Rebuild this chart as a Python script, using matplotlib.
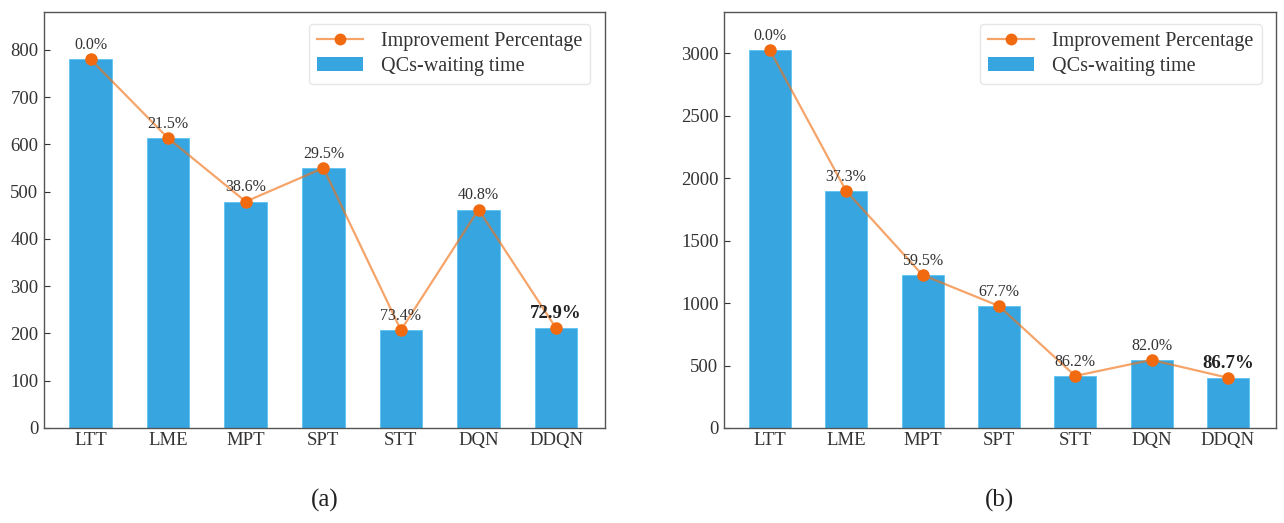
import matplotlib
matplotlib.use("Agg")
import matplotlib.pyplot as plt
from matplotlib.lines import Line2D
from matplotlib.patches import Patch

plt.rcParams["font.family"] = ["Liberation Serif", "DejaVu Serif"]

methods = ["LTT", "LME", "MPT", "SPT", "STT", "DQN", "DDQN"]

# (a) QCs-waiting time and improvement over LTT
wait_a = [780, 613, 479, 550, 207, 462, 211]
impr_a = [0.0, 21.5, 38.6, 29.5, 73.4, 40.8, 72.9]

# (b) QCs-waiting time and improvement over LTT
wait_b = [3026, 1897, 1225, 977, 417, 545, 402]
impr_b = [0.0, 37.3, 59.5, 67.7, 86.2, 82.0, 86.7]

yticks_a = [0, 100, 200, 300, 400, 500, 600, 700, 800]
yticks_b = [0, 500, 1000, 1500, 2000, 2500, 3000]

BAR_COLOR = "#37a5e0"
LINE_COLOR = (0.94, 0.45, 0.10, 0.65)
MARKER_COLOR = "#f26a10"
TEXT_COLOR = "#333333"
SPINE_COLOR = "#555555"

fig = plt.figure(figsize=(12.84, 5.23), dpi=100)
ax_a = fig.add_axes([44 / 1284, 1 - 428 / 523, (605 - 44) / 1284, 416 / 523])
ax_b = fig.add_axes([724 / 1284, 1 - 428 / 523, (1276 - 724) / 1284, 416 / 523])


def draw_panel(ax, waits, imprs, yticks, ylim, tag):
    x = list(range(len(methods)))
    ax.bar(x, waits, width=0.55, color=BAR_COLOR, edgecolor="#5cc3f2",
           linewidth=0.6, zorder=2)
    ax.plot(x, waits, color=LINE_COLOR, linewidth=1.6, marker="o",
            markersize=8, markerfacecolor=MARKER_COLOR,
            markeredgecolor=MARKER_COLOR, zorder=3)
    for i, (xi, yi, p) in enumerate(zip(x, waits, imprs)):
        last = i == len(methods) - 1
        ax.annotate(f"{p:.1f}%", (xi, yi), xytext=(0, 4.5),
                    textcoords="offset points", ha="center", va="bottom",
                    fontsize=13.5 if last else 11.5,
                    fontweight="bold" if last else "normal",
                    color="#222222" if last else TEXT_COLOR, zorder=4)
    ax.set_xticks(x)
    ax.set_xticklabels(methods)
    ax.set_yticks(yticks)
    ax.set_ylim(*ylim)
    ax.set_xlim(-0.6, len(methods) - 1 + 0.63)
    ax.tick_params(axis="both", direction="in", labelsize=13.5,
                   colors=TEXT_COLOR, length=4, width=0.8)
    ax.tick_params(axis="x", pad=3)
    ax.tick_params(axis="y", pad=4)
    for s in ax.spines.values():
        s.set_color(SPINE_COLOR)
        s.set_linewidth(1.0)
    handles = [
        Line2D([0], [0], color=LINE_COLOR, linewidth=1.6, marker="o",
               markersize=7.5, markerfacecolor=MARKER_COLOR,
               markeredgecolor=MARKER_COLOR),
        Patch(facecolor=BAR_COLOR),
    ]
    leg = ax.legend(handles, ["Improvement Percentage", "QCs-waiting time"],
                    loc="upper right", fontsize=14.5, frameon=True,
                    framealpha=1, edgecolor="#e6e6e6", borderpad=0.4,
                    handlelength=2.3, labelspacing=0.3, handletextpad=0.9,
                    bbox_to_anchor=(0.992, 0.995))
    for t in leg.get_texts():
        t.set_color(TEXT_COLOR)
    pos = ax.get_position()
    fig.text(pos.x0 + pos.width / 2, 1 - 500 / 523, tag, ha="center",
             va="center", fontsize=18, color="#222222")


draw_panel(ax_a, wait_a, impr_a, yticks_a, (0, 880), "(a)")
draw_panel(ax_b, wait_b, impr_b, yticks_b, (0, 3330), "(b)")

fig.savefig("out.png", dpi=100)
